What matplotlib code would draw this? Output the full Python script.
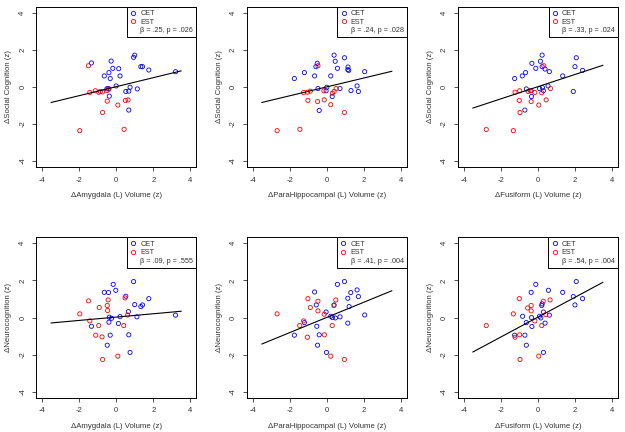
import numpy as np
import matplotlib
matplotlib.use("Agg")
import matplotlib.pyplot as plt
from matplotlib.lines import Line2D

plt.rcParams['font.family'] = ['Liberation Sans', 'DejaVu Sans']
plt.rcParams['font.size'] = 5.5
plt.rcParams['axes.unicode_minus'] = False

# ---- panel 1: amygdala vs social cognition
p1_cet_x = [-1.33, -0.27, 1.0, 0.94, -0.18, 0.14, -0.39, -0.64, 0.21, -0.32, 1.33, 1.42, 1.76, 3.2,
            0.0, 0.75, 1.14, 0.52, 0.68, -0.41, -0.37, 0.68, -0.5]
p1_cet_y = [1.29, 1.39, 1.71, 1.59, 1.0, 0.98, 0.77, 0.59, 0.59, 0.45, 1.09, 1.09, 0.91, 0.82,
            0.05, -0.02, -0.11, -0.25, -0.23, -0.09, -0.5, -1.25, -0.1]
p1_est_x = [-1.49, -1.42, -1.12, -0.94, -0.85, -0.73, -0.5, -0.39, -0.48, 0.09, 0.5, 0.64, -0.73, -1.96, 0.43]
p1_est_y = [1.14, -0.3, -0.21, -0.29, -0.25, -0.27, -0.2, -0.13, -0.77, -0.98, -0.73, -0.7, -1.38, -2.36, -2.29]

# ---- panel 2: parahippocampal vs social cognition
p2_cet_x = [0.39, 0.95, -0.52, 0.45, -0.59, 0.57, 1.14, 1.13, 1.18, -1.21, 2.04, -1.75, -0.66, 0.21,
            -0.48, 0.0, -0.04, 0.71, 1.3, 1.63, 1.7, 0.29, -0.41]
p2_cet_y = [1.71, 1.57, 1.27, 1.38, 1.09, 1.0, 1.07, 0.93, 0.89, 0.77, 0.82, 0.45, 0.59, 0.59,
            -0.09, -0.02, -0.21, -0.09, -0.2, 0.05, -0.25, -0.52, -1.27]
p2_est_x = [-0.48, -1.25, -1.04, -0.89, -0.16, 0.3, 0.39, 0.5, -1.02, -0.5, -0.14, 0.21, 0.95, -2.68, -1.45]
p2_est_y = [1.14, -0.3, -0.29, -0.23, -0.21, -0.34, -0.25, -0.09, -0.73, -0.79, -0.7, -0.96, -1.38, -2.36, -2.29]

# ---- panel 3: fusiform vs social cognition
p3_cet_x = [0.23, 2.07, -0.32, 0.14, 0.23, -0.11, 0.39, 0.62, 2.0, 2.41, -0.66, -0.84, 1.34, -1.25,
            -0.62, 0.09, 0.25, 0.3, 0.55, -0.36, -0.34, 1.91, -0.7]
p3_cet_y = [1.71, 1.57, 1.27, 1.38, 1.09, 1.0, 0.96, 0.82, 1.09, 0.89, 0.77, 0.59, 0.59, 0.45,
            -0.11, -0.09, -0.04, -0.21, 0.05, -0.21, -0.52, -0.25, -1.25]
p3_est_x = [0.32, -1.23, -0.98, -0.52, -0.41, -0.16, 0.21, 0.68, -1.0, -0.36, 0.45, 0.05, -0.96, -2.78, -1.32]
p3_est_y = [1.14, -0.29, -0.21, -0.25, -0.2, -0.3, -0.32, -0.09, -0.73, -0.79, -0.7, -0.98, -1.38, -2.3, -2.36]

# ---- panel 4: amygdala vs neurocognition
p4_cet_x = [-0.16, 0.94, -0.02, -0.64, -0.41, 0.52, 1.76, 1.0, 1.42, 1.33, 0.66, 3.2, 0.21, 1.12,
            -0.37, -0.25, -0.39, 0.12, -1.33, -0.32, 0.68, -0.48, 0.75]
p4_cet_y = [1.79, 1.94, 1.47, 1.36, 1.35, 1.15, 1.02, 0.7, 0.68, 0.59, 0.32, 0.13, 0.05, 0.04,
            0.02, -0.04, -0.25, -0.32, -0.47, -0.95, -0.93, -1.49, -1.88]
p4_est_x = [0.48, -0.43, -1.49, -0.48, -0.91, -0.46, 0.62, -1.96, -1.42, -0.94, 0.41, -1.1, -0.76, -0.73, 0.09]
p4_est_y = [1.06, 0.95, 0.9, 0.65, 0.54, 0.38, 0.14, 0.2, -0.18, -0.43, -0.43, -0.95, -1.04, -2.26, -2.08]

# ---- panel 5: parahippocampal vs neurocognition
p5_cet_x = [0.95, 0.57, 1.63, -0.66, 1.29, 1.7, 1.13, -0.57, 0.39, 1.2, -0.04, 2.04, 0.21, 0.3,
            0.46, 0.71, -1.21, 1.13, -0.54, -0.41, -1.75, -0.5, -0.02]
p5_cet_y = [1.94, 1.79, 1.49, 1.38, 1.35, 1.13, 1.04, 0.68, 0.68, 0.59, 0.3, 0.14, 0.07, 0.0,
            -0.02, 0.04, -0.27, -0.3, -0.47, -0.93, -0.95, -1.49, -1.88]
p5_est_x = [-1.02, 0.48, -0.48, 0.38, -0.89, -0.48, -0.14, -2.68, -1.25, -1.46, 0.29, -0.13, -1.05, 0.21, 0.95]
p5_est_y = [1.02, 0.95, 0.88, 0.65, 0.54, 0.36, 0.18, 0.2, -0.18, -0.43, -0.43, -0.93, -1.06, -2.08, -2.26]

# ---- panel 6: fusiform vs neurocognition
p6_cet_x = [2.07, -0.11, 0.57, -0.36, 1.34, 1.91, 2.41, 0.23, 0.21, 2.0, 0.3, 0.62, -0.82, 0.09,
            0.16, -0.34, -0.62, 0.39, -0.32, -1.25, -0.7, -0.62, 0.3]
p6_cet_y = [1.94, 1.79, 1.47, 1.36, 1.36, 1.13, 1.02, 0.74, 0.65, 0.68, 0.3, 0.13, 0.07, 0.07,
            -0.02, 0.0, -0.27, -0.3, -0.48, -0.95, -0.95, -1.49, -1.88]
p6_est_x = [-1.0, 0.66, 0.29, -0.36, -0.55, -0.36, -1.32, 0.43, -0.16, -2.78, 0.21, -0.98, -1.23, -0.96, 0.05]
p6_est_y = [1.02, 0.95, 0.88, 0.65, 0.52, 0.36, 0.2, 0.16, -0.18, -0.43, -0.43, -0.93, -1.06, -2.26, -2.08]

slopes = [0.243, 0.24, 0.329, 0.09, 0.41, 0.536]
intercepts = [0.01, 0.0, 0.01, 0.025, 0.01, 0.02]
stats = ["β = .25, p = .026", "β = .24, p = .028", "β = .33, p = .024",
         "β = .09, p = .555", "β = .41, p = .004", "β = .54, p = .004"]
xlabels = ["ΔAmygdala (L) Volume (z)", "ΔParaHippocampal (L) Volume (z)", "ΔFusiform (L) Volume (z)"] * 2
ylabels = ["ΔSocial Cognition (z)"] * 3 + ["ΔNeurocognition (z)"] * 3

panels = [(p1_cet_x, p1_cet_y, p1_est_x, p1_est_y),
          (p2_cet_x, p2_cet_y, p2_est_x, p2_est_y),
          (p3_cet_x, p3_cet_y, p3_est_x, p3_est_y),
          (p4_cet_x, p4_cet_y, p4_est_x, p4_est_y),
          (p5_cet_x, p5_cet_y, p5_est_x, p5_est_y),
          (p6_cet_x, p6_cet_y, p6_est_x, p6_est_y)]

fig = plt.figure(figsize=(6.25, 4.32), dpi=100)
lefts = [0.0576, 0.3947, 0.7323]
bottoms = [0.6134, 0.0794]

for i, (cx, cy, ex, ey) in enumerate(panels):
    ax = fig.add_axes([lefts[i % 3], bottoms[i // 3], 0.2565, 0.371])
    ax.scatter(cx, cy, s=9, facecolors='none', edgecolors='blue', linewidths=0.6)
    ax.scatter(ex, ey, s=9, facecolors='none', edgecolors='red', linewidths=0.6)
    xl = np.array([-3.5, 3.5])
    ax.plot(xl, intercepts[i] + slopes[i] * xl, color='black', lw=0.8)
    ax.set_xlim(-4.32, 4.32)
    ax.set_ylim(-4.32, 4.32)
    ax.set_xticks([-4, -2, 0, 2, 4])
    ax.set_yticks([-4, -2, 0, 2, 4])
    ax.tick_params(direction='out', length=3, width=0.6, pad=4, labelsize=5.5, colors='#333333')
    for lab in ax.get_yticklabels():
        lab.set_rotation(90)
        lab.set_va('center')
    for sp in ax.spines.values():
        sp.set_linewidth(0.7)
    ax.set_xlabel(xlabels[i], fontsize=5.6, labelpad=6, color='#333333')
    ax.set_ylabel(ylabels[i], fontsize=5.6, labelpad=5, color='#333333')
    handles = [Line2D([], [], ls='none', marker='o', mfc='none', mec='blue', ms=3, mew=0.6),
               Line2D([], [], ls='none', marker='o', mfc='none', mec='red', ms=3, mew=0.6),
               Line2D([], [], ls='none')]
    leg = ax.legend(handles, ["CET", "EST", stats[i]], loc='upper right', borderaxespad=0,
                    fancybox=False, edgecolor='black', framealpha=1, fontsize=5.2,
                    handlelength=0.8, handletextpad=0.6, labelspacing=0.2, borderpad=0.45)
    leg.get_frame().set_linewidth(0.7)
    for t in leg.get_texts():
        t.set_color('#333333')

fig.savefig("out.png", dpi=100)
